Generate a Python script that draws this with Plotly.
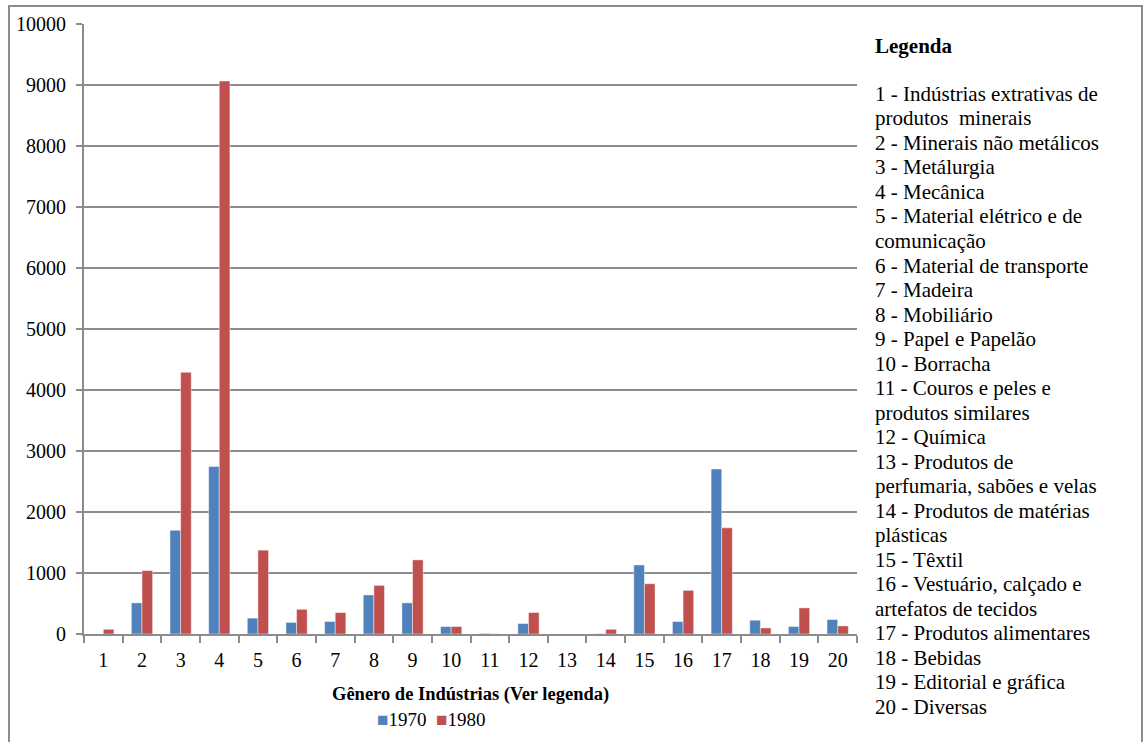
import plotly.graph_objects as go

categories = [str(i) for i in range(1, 21)]
values_1970 = [0, 510, 1700, 2745, 260, 190, 205, 640, 510, 122, 10, 171, 0, 5, 1132, 204, 2705, 226, 122, 237]
values_1980 = [77, 1040, 4290, 9065, 1375, 405, 352, 797, 1215, 122, 3, 352, 0, 77, 824, 715, 1740, 99, 428, 132]
series_names = ["1970", "1980"]
series_colors = ["#4F81BD", "#C0504D"]
y_ticks = list(range(0, 10001, 1000))
y_tick_labels = [str(v) for v in y_ticks]

legend_title = "Legenda"
legend_lines = [
    "1 - Indústrias extrativas de",
    "produtos  minerais",
    "2 - Minerais não metálicos",
    "3 - Metálurgia",
    "4 - Mecânica",
    "5 - Material elétrico e de",
    "comunicação",
    "6 - Material de transporte",
    "7 - Madeira",
    "8 - Mobiliário",
    "9 - Papel e Papelão",
    "10 - Borracha",
    "11 - Couros e peles e",
    "produtos similares",
    "12 - Química",
    "13 - Produtos de",
    "perfumaria, sabões e velas",
    "14 - Produtos de matérias",
    "plásticas",
    "15 - Têxtil",
    "16 - Vestuário, calçado e",
    "artefatos de tecidos",
    "17 - Produtos alimentares",
    "18 - Bebidas",
    "19 - Editorial e gráfica",
    "20 - Diversas",
]
x_title = "Gênero de Indústrias (Ver legenda)"

FONT = "Liberation Serif"
W, H = 1146, 742
L, R, T, B = 84, 289, 24, 108
PW, PH = W - L - R, H - T - B


def px_x(px):
    return (px - L) / PW


def px_y(py):
    return (H - B - py) / PH


fig = go.Figure()
for name, vals, col in zip(series_names, [values_1970, values_1980], series_colors):
    fig.add_trace(go.Bar(
        x=categories, y=vals, name=name, showlegend=False,
        marker=dict(color=col, line=dict(color="rgba(255,255,255,0.55)", width=0.8)),
    ))

series_legend = "&nbsp;&nbsp;".join(
    "<span style='color:%s'>■</span>%s" % (c, n) for n, c in zip(series_names, series_colors)
)

annotations = [
    dict(text="<b>" + legend_title + "</b>", x=px_x(873), y=px_y(46), xref="paper", yref="paper",
         xanchor="left", yanchor="middle", showarrow=False,
         font=dict(family=FONT, size=21, color="black")),
    dict(text="<b>" + x_title + "</b>", x=0.5, y=px_y(694), xref="paper", yref="paper",
         xanchor="center", yanchor="middle", showarrow=False,
         font=dict(family=FONT, size=18.5, color="black")),
    dict(text=series_legend, x=px_x(431), y=px_y(719), xref="paper", yref="paper",
         xanchor="center", yanchor="middle", showarrow=False,
         font=dict(family=FONT, size=19, color="black")),
]
for i, line in enumerate(legend_lines):
    annotations.append(dict(
        text=line, x=px_x(873), y=px_y(94 + i * 24.5), xref="paper", yref="paper",
        xanchor="left", yanchor="middle", showarrow=False,
        font=dict(family=FONT, size=21, color="black"),
    ))

fig.update_layout(
    width=W, height=H,
    margin=dict(l=L, r=R, t=T, b=B, pad=0),
    paper_bgcolor="white", plot_bgcolor="white",
    barmode="group", bargap=0.45, bargroupgap=0,
    font=dict(family=FONT, size=20, color="black"),
    showlegend=False,
    annotations=annotations,
    shapes=[dict(type="rect", xref="paper", yref="paper",
                 x0=px_x(9), x1=px_x(1142), y0=-0.3, y1=px_y(6),
                 line=dict(color="#8C8C8C", width=2), fillcolor="rgba(0,0,0,0)", layer="above")],
)
fig.update_xaxes(
    type="category", showline=True, linecolor="#8C8C8C", linewidth=2,
    ticks="outside", tickson="boundaries", ticklen=7, tickcolor="#8C8C8C", tickwidth=2,
    showgrid=False, tickfont=dict(family=FONT, size=20, color="black"), ticklabelstandoff=7,
)
fig.update_yaxes(
    range=[0, 10000], tickvals=y_ticks, ticktext=y_tick_labels,
    showline=True, linecolor="#8C8C8C", linewidth=2,
    ticks="outside", ticklen=6, tickcolor="#8C8C8C", tickwidth=2,
    showgrid=True, gridcolor="#8C8C8C", gridwidth=2, zeroline=False,
    tickfont=dict(family=FONT, size=20, color="black"), ticklabelstandoff=6,
)

fig.write_html("out.html", config={"displayModeBar": False},
               post_script="document.body.style.margin='0px';")
